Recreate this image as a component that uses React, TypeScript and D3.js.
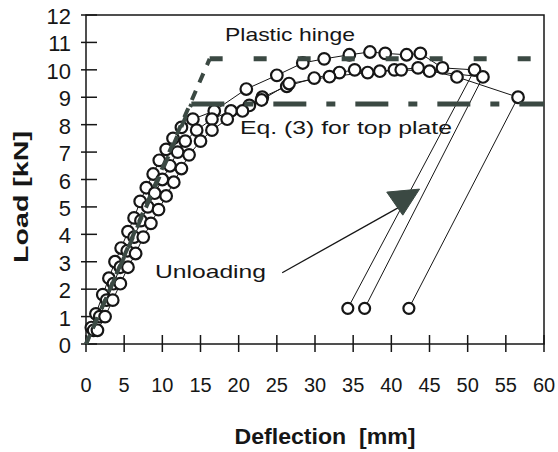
import React from 'react';
import * as d3 from 'd3';

const WIDTH = 558;
const HEIGHT = 452;

// axis ticks
const xTicks = [0, 5, 10, 15, 20, 25, 30, 35, 40, 45, 50, 55, 60];
const yTicks = [0, 1, 2, 3, 4, 5, 6, 7, 8, 9, 10, 11, 12];

// test A (upper curve): deflection [mm], load [kN]
const deflA = [0.7, 1.3, 2.2, 3.0, 3.8, 4.6, 5.5, 6.3, 7.1, 7.9, 8.8, 9.6, 10.5, 11.4, 12.5, 14.0, 16.8, 21.0, 25.0, 28.4, 31.2, 34.5, 37.2, 39.2, 42.0, 43.8, 46.7, 50.9];
const loadA = [0.6, 1.1, 1.8, 2.4, 3.0, 3.5, 4.1, 4.6, 5.2, 5.7, 6.2, 6.7, 7.1, 7.5, 7.9, 8.2, 8.5, 9.3, 9.8, 10.25, 10.4, 10.55, 10.65, 10.6, 10.55, 10.6, 10.07, 10.0];

// test B
const deflB = [1.0, 1.8, 2.7, 3.6, 4.5, 5.4, 6.3, 7.2, 8.1, 9.0, 10.0, 11.0, 12.0, 13.0, 14.5, 16.5, 19.0, 21.4, 23.1, 26.3, 29.9, 33.2, 35.2, 38.5, 40.4, 43.5, 48.6, 56.6];
const loadB = [0.5, 1.0, 1.6, 2.2, 2.8, 3.4, 3.9, 4.5, 5.0, 5.5, 6.0, 6.5, 7.0, 7.4, 7.8, 8.2, 8.5, 8.7, 9.0, 9.4, 9.7, 9.9, 10.0, 9.95, 10.0, 10.07, 9.74, 9.0];

// test C
const deflC = [1.5, 2.5, 3.5, 4.5, 5.5, 6.5, 7.5, 8.5, 9.5, 10.5, 11.5, 12.5, 13.5, 15.0, 16.5, 18.5, 20.5, 23.0, 26.6, 31.9, 36.9, 41.3, 45.0, 52.0];
const loadC = [0.5, 1.0, 1.6, 2.2, 2.8, 3.3, 3.9, 4.4, 4.9, 5.4, 5.9, 6.4, 6.9, 7.4, 7.8, 8.2, 8.5, 8.9, 9.5, 9.75, 9.9, 10.0, 9.95, 9.74];

// residual points after unloading (A, C, B)
const unloadDefl = [34.3, 36.5, 42.3];
const unloadLoad = [1.3, 1.3, 1.3];

// prediction lines
const hingeDefl = [0, 16.2, 60];
const hingeLoad = [0, 10.4, 10.4];
const eq3Defl = [0, 13.8, 60];
const eq3Load = [0, 8.75, 8.75];

// "Unloading" arrow (data units)
const arrowDefl = [25.7, 41.1];
const arrowLoad = [2.6, 5.0];
const headDefl = [39.4, 43.7, 41.5];
const headLoad = [5.54, 5.65, 4.7];

const FONT = 'Liberation Sans, Arial, Helvetica, sans-serif';
const DARK = '#3b4943';
const INK = '#161616';

export default function App() {
  const x = d3.scaleLinear().domain([0, 60]).range([86, 544]);
  const y = d3.scaleLinear().domain([0, 12]).range([344, 15]);

  const line = d3.line<[number, number]>().x(d => x(d[0])).y(d => y(d[1]));
  const zip = (a: number[], b: number[]) => a.map((v, i) => [v, b[i]] as [number, number]);

  const series = [
    { pts: zip(deflA, loadA), end: 0 },
    { pts: zip(deflB, loadB), end: 2 },
    { pts: zip(deflC, loadC), end: 1 },
  ];

  const hinge = zip(hingeDefl, hingeLoad);
  const eq3 = zip(eq3Defl, eq3Load);
  const head = zip(headDefl, headLoad);

  return (
    <svg width={WIDTH} height={HEIGHT} style={{ position: 'absolute', left: 0, top: 0, background: '#fff' }}
      fontFamily={FONT}>
      {/* frame */}
      <rect x={x(0)} y={y(12)} width={x(60) - x(0)} height={y(0) - y(12)} fill="none" stroke={INK} strokeWidth={1.5} />

      {/* y ticks */}
      {yTicks.map(t => (
        <g key={'y' + t}>
          <line x1={x(0) - 5} x2={x(0) + 11} y1={y(t)} y2={y(t)} stroke={INK} strokeWidth={1.5} />
          <text x={71} y={y(t) + 9} textAnchor="end" fontSize={22} fill={INK}>{t}</text>
        </g>
      ))}

      {/* x ticks */}
      {xTicks.map(t => (
        <g key={'x' + t}>
          <line x1={x(t)} x2={x(t)} y1={y(0) - 9} y2={y(0) + 8} stroke={INK} strokeWidth={1.5} />
          <text x={x(t)} y={392} textAnchor="middle" fontSize={20} fill={INK}>{t}</text>
        </g>
      ))}

      {/* test curves */}
      {series.map((s, i) => (
        <g key={'s' + i}>
          <path d={line(s.pts) || ''} fill="none" stroke={INK} strokeWidth={1} />
          <path d={line([s.pts[s.pts.length - 1], [unloadDefl[s.end], unloadLoad[s.end]]]) || ''}
            fill="none" stroke={INK} strokeWidth={1} />
        </g>
      ))}
      {series.map((s, i) => (
        <g key={'c' + i}>
          {s.pts.map((p, j) => (
            <circle key={j} cx={x(p[0])} cy={y(p[1])} r={5.8} fill="#fff" stroke={INK} strokeWidth={2.2} />
          ))}
        </g>
      ))}
      {unloadDefl.map((d, i) => (
        <circle key={'u' + i} cx={x(d)} cy={y(unloadLoad[i])} r={5.5} fill="#fff" stroke={INK} strokeWidth={2.2} />
      ))}

      {/* plastic hinge */}
      <path d={line(hinge.slice(0, 2)) || ''} fill="none" stroke={DARK} strokeWidth={4} strokeDasharray="10,9" />
      <path d={line(hinge.slice(1)) || ''} fill="none" stroke={DARK} strokeWidth={5} strokeDasharray="13,31" />

      {/* Eq. (3) for top plate */}
      <path d={line(eq3.slice(0, 2)) || ''} fill="none" stroke={DARK} strokeWidth={4} strokeDasharray="12,10" strokeDashoffset={5} />
      <path d={line(eq3.slice(1)) || ''} fill="none" stroke={DARK} strokeWidth={5} strokeDasharray="33,20,9,20" />

      {/* labels */}
      <text x={225} y={41} fontSize={19} fill={INK} textLength={130} lengthAdjust="spacingAndGlyphs">Plastic hinge</text>
      <text x={240} y={134} fontSize={19} fill={INK} textLength={212} lengthAdjust="spacingAndGlyphs">Eq. (3) for top plate</text>
      <text x={155} y={278} fontSize={19} fill={INK} textLength={111} lengthAdjust="spacingAndGlyphs">Unloading</text>

      {/* unloading arrow */}
      <path d={line(zip(arrowDefl, arrowLoad)) || ''} fill="none" stroke={INK} strokeWidth={1.3} />
      <path d={(line(head) || '') + 'Z'} fill={DARK} stroke={DARK} strokeWidth={1} />

      {/* axis titles */}
      <text transform="translate(28,197) rotate(-90)" textAnchor="middle" fontSize={21} fontWeight="bold" fill={INK}
        textLength={132} lengthAdjust="spacingAndGlyphs">Load [kN]</text>
      <text x={325} y={444} textAnchor="middle" fontSize={22} fontWeight="bold" fill={INK} style={{ whiteSpace: 'pre' }}
        textLength={181} lengthAdjust="spacingAndGlyphs">Deflection  [mm]</text>
    </svg>
  );
}
